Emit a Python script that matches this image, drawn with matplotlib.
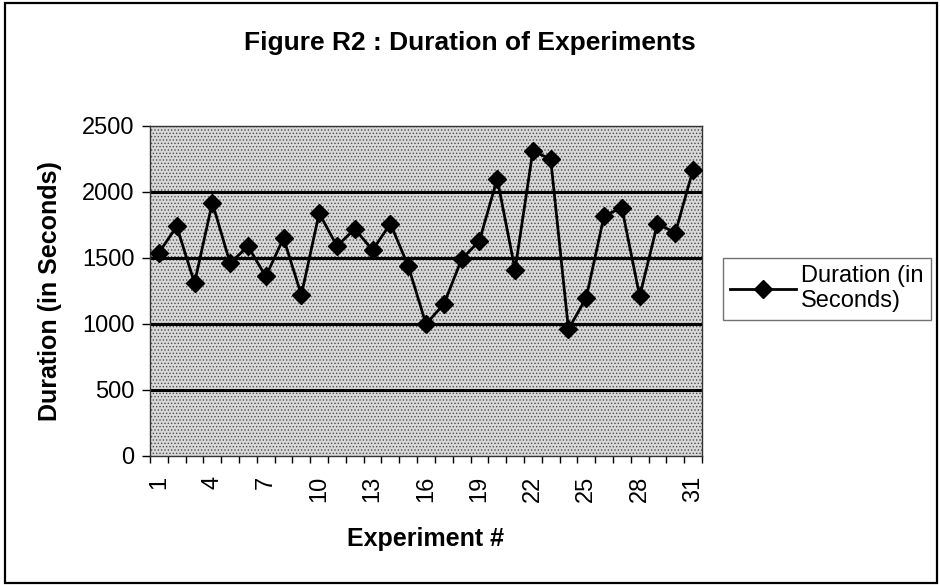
import numpy as np
from matplotlib import pyplot as plt
from matplotlib.patches import Rectangle

###################
# Plot parameters #
###################
experiments = list(range(1, 32))
durations = [1540, 1740, 1310, 1920, 1460, 1590, 1360, 1650, 1220, 1840,
             1590, 1720, 1560, 1760, 1440, 1000, 1150, 1490, 1630, 2100,
             1410, 2310, 2250, 960, 1200, 1820, 1880, 1210, 1760, 1690,
             2170]
x_tick_labels = [str(i) for i in range(1, 32, 3)]
y_ticks = [0, 500, 1000, 1500, 2000, 2500]

title = 'Figure R2 : Duration of Experiments'
x_label = 'Experiment #'
y_label = 'Duration (in Seconds)'
legend_label = 'Duration (in\nSeconds)'

plt.rcParams['font.family'] = ['Liberation Sans', 'DejaVu Sans']
plt.rcParams['hatch.color'] = '0.3'
plt.rcParams['hatch.linewidth'] = 0.6

# Define the figure
fig = plt.figure(figsize=(9.4, 5.85), dpi=100)
ax = fig.add_axes([150/940, 1-456/585, 552/940, 330/585])

# Outer frame of the chart
fig.patches.append(Rectangle((5/940, 2/585), 932/940, 580/585, transform=fig.transFigure,
                             fill=False, edgecolor='black', linewidth=1.6))

# Stippled plot background
ax.set_facecolor('#d8d8d8')
ax.add_patch(Rectangle((0, 0), 1, 1, transform=ax.transAxes, facecolor='none',
                       edgecolor='0.3', hatch='.....', linewidth=0, zorder=0))

# Horizontal grid lines
for v in y_ticks[1:-1]:
    ax.axhline(v, color='black', linewidth=2.2, zorder=1)

# Plot the values
ax.plot(experiments, durations, color='black', linewidth=2, marker='D',
        markersize=9, markerfacecolor='black', label=legend_label, zorder=3)

ax.set_xlim(0.5, 31.5)
ax.set_ylim(0, 2500)
ax.set_yticks(y_ticks)
ax.tick_params(axis='y', labelsize=17, length=6, direction='out', width=1, pad=5)

# Category ticks between points, labels every third experiment
ax.set_xticks(range(1, 32, 3))
ax.set_xticklabels(x_tick_labels, rotation=90, fontsize=17)
ax.set_xticks(np.arange(0.5, 32, 1), minor=True)
ax.tick_params(axis='x', which='major', length=0, pad=14)
ax.tick_params(axis='x', which='minor', length=5, width=1, direction='out')

for s in ax.spines.values():
    s.set_linewidth(1)
    s.set_color('0.2')

# Labels and title
ax.set_xlabel(x_label, fontsize=18, fontweight='bold')
ax.xaxis.set_label_coords(0.5, -0.215)
ax.set_ylabel(y_label, fontsize=18, fontweight='bold')
ax.yaxis.set_label_coords(-0.16, 0.5)
fig.text(0.5, 1-43/585, title, ha='center', va='center', fontsize=19, fontweight='bold')

# Show the legend
leg = ax.legend(loc='upper left', bbox_to_anchor=(723/940, 1-258/585),
                bbox_transform=fig.transFigure, fontsize=17, frameon=True,
                fancybox=False, handlelength=2.8, borderpad=0.3, handletextpad=0.2,
                borderaxespad=0, labelspacing=0.2)
leg.get_frame().set_edgecolor('0.3')
leg.get_frame().set_linewidth(1)

# Save plot as image
fig.savefig('out.png', dpi=100)
